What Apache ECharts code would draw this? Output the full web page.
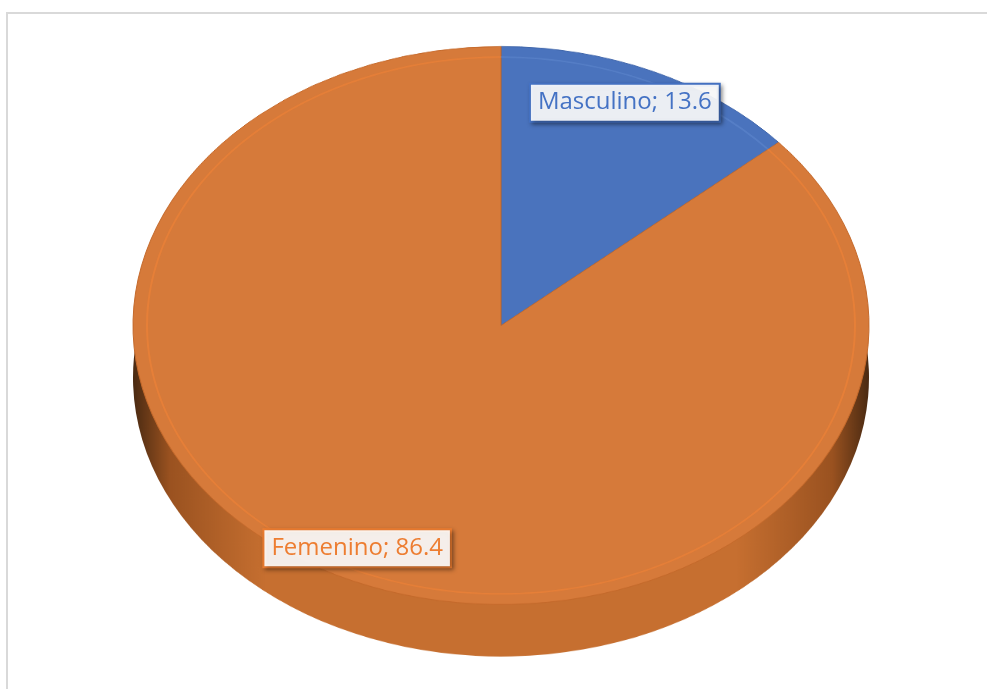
<!DOCTYPE html>
<html>
<head>
    <meta charset="utf-8">
    <title>Sexo</title>
    <script src="https://cdn.jsdelivr.net/npm/echarts@6/dist/echarts.min.js"></script>
    <style>
        html, body {
            margin: 0;
            padding: 0;
            background: #fff;
        }
        #wrap {
            position: relative;
            width: 987px;
            height: 689px;
            overflow: hidden;
        }
        #frame {
            position: absolute;
            left: 6px;
            top: 12px;
            width: 1100px;
            height: 800px;
            border-left: 2px solid #d9d9d9;
            border-top: 2px solid #d9d9d9;
        }
        /* pie drawn round, then flattened into an ellipse */
        #back {
            position: absolute;
            left: 0;
            top: 0;
            width: 987px;
            transform-origin: 0 0;
        }
        #front {
            position: absolute;
            left: 0;
            top: 0;
            width: 987px;
            height: 689px;
        }
    </style>
</head>
<body>
<div id="wrap">
    <div id="frame"></div>
    <div id="back"></div>
    <div id="front"></div>
</div>

<script type="text/javascript">
    // datos
    var categorias = ['Masculino', 'Femenino'];
    var valores = [13.6, 86.4];
    var coloresTop = ['#4a73bd', '#d67a3a'];
    var coloresBorde = ['#3d63a8', '#c4692b'];
    var coloresTexto = ['#4472c4', '#ed7d31'];

    // ellipse geometry of the top face (page pixels)
    var cx = 501, cy = 325.5, rx = 368, ry = 279, depth = 52;
    var k = ry / rx;

    var backDiv = document.getElementById('back');
    var backH = Math.round(689 / k);
    backDiv.style.height = backH + 'px';
    backDiv.style.transform = 'scaleY(' + k + ')';

    var sideGrad = new echarts.graphic.LinearGradient(0, 0, 1, 0, [
        {offset: 0, color: '#4a2a12'},
        {offset: 0.05, color: '#9a5220'},
        {offset: 0.18, color: '#c66f30'},
        {offset: 0.82, color: '#c66f30'},
        {offset: 0.95, color: '#9a5220'},
        {offset: 1, color: '#4a2a12'}
    ]);

    var dataTop = categorias.map(function (c, i) {
        return {name: c, value: valores[i],
            itemStyle: {color: coloresTop[i], borderColor: coloresBorde[i], borderWidth: 1}};
    });
    var dataSide = categorias.map(function (c, i) {
        return {name: c, value: valores[i],
            itemStyle: {color: i === 1 ? sideGrad : '#3b5f9f'}};
    });
    var dataRing = categorias.map(function (c, i) {
        return {name: c, value: valores[i],
            itemStyle: {color: i === 1 ? 'rgba(236,130,56,0.7)' : 'rgba(95,135,205,0.6)'}};
    });
    var dataLabels = categorias.map(function (c, i) {
        return {name: c, value: valores[i],
            itemStyle: {color: 'rgba(0,0,0,0)'},
            label: {color: coloresTexto[i], borderColor: coloresTexto[i]}};
    });

    var backChart = echarts.init(backDiv);
    backChart.setOption({
        animation: false,
        series: [
            {
                type: 'pie',
                silent: true,
                center: [cx, (cy + depth) / k],
                radius: rx,
                label: {show: false},
                labelLine: {show: false},
                data: dataSide
            },
            {
                type: 'pie',
                silent: true,
                center: [cx, cy / k],
                radius: rx,
                label: {show: false},
                labelLine: {show: false},
                data: dataTop
            },
            {
                type: 'pie',
                silent: true,
                center: [cx, cy / k],
                radius: [rx - 15, rx - 13],
                label: {show: false},
                labelLine: {show: false},
                data: dataRing
            }
        ]
    });

    var frontChart = echarts.init(document.getElementById('front'));
    frontChart.setOption({
        animation: false,
        series: [
            {
                type: 'pie',
                silent: true,
                center: [cx, cy],
                radius: [272, rx],
                label: {
                    show: true,
                    position: 'inside',
                    formatter: '{b}; {c}',
                    fontFamily: 'Open Sans',
                    fontSize: 24,
                    lineHeight: 26,
                    backgroundColor: 'rgba(255,255,255,0.9)',
                    borderWidth: 2,
                    padding: [5, 7],
                    shadowColor: 'rgba(0,0,0,0.35)',
                    shadowBlur: 4,
                    shadowOffsetX: 2,
                    shadowOffsetY: 2
                },
                labelLine: {show: false},
                // squeeze label positions onto the ellipse
                labelLayout: function (p) {
                    var yc = p.labelRect.y + p.labelRect.height / 2;
                    return {dx: -10, dy: (yc - cy) * (k - 1)};
                },
                data: dataLabels
            }
        ]
    });
</script>
</body>
</html>
